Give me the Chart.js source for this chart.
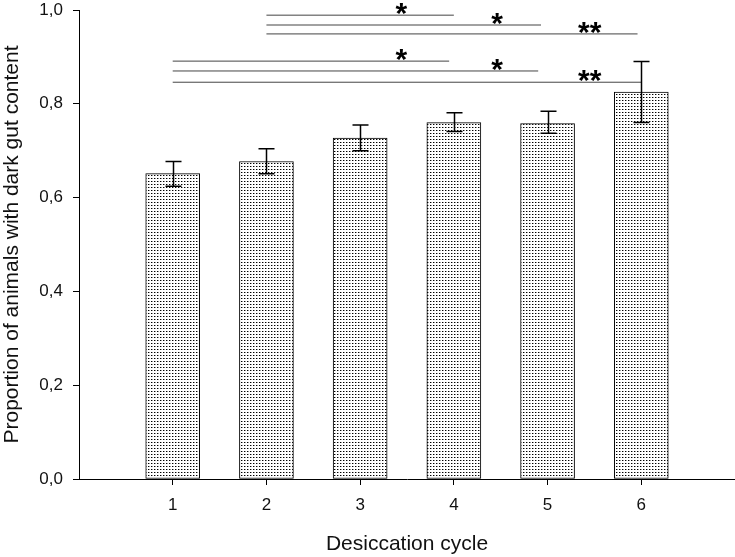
<!DOCTYPE html>
<html>
<head>
<meta charset="utf-8">
<script src="https://cdn.jsdelivr.net/npm/chart.js@4.4.1/dist/chart.umd.min.js"></script>
<style>
  body { margin: 0; background: #fff; }
  #chart { display: block; }
</style>
</head>
<body>
<canvas id="chart" width="735" height="557"></canvas>
<script>
// desiccation cycles and mean proportions
const cycles = [1, 2, 3, 4, 5, 6];
const proportion = [0.651, 0.677, 0.727, 0.760, 0.758, 0.825];
const errLow = [0.624, 0.651, 0.700, 0.741, 0.737, 0.760];
const errHigh = [0.677, 0.704, 0.755, 0.781, 0.784, 0.890];
const yTicks = [0, 0.2, 0.4, 0.6, 0.8, 1.0];

// significance brackets
const sigStart = [2, 2, 2, 1, 1, 1];
const sigEnd = [4, 4.93, 5.96, 3.95, 4.9, 6];
const sigLevel = [0.989, 0.968, 0.949, 0.891, 0.870, 0.846];
const sigStarX = [3.44, 4.46, 5.45, 3.44, 4.46, 5.45];
const sigLabel = ['*', '*', '**', '*', '*', '**'];

const FONT = "'Liberation Sans', Arial, sans-serif";

function dotPattern() {
    const c = document.createElement('canvas');
    c.width = 3;
    c.height = 3;
    const g = c.getContext('2d');
    g.fillStyle = '#fff';
    g.fillRect(0, 0, 3, 3);
    g.fillStyle = '#000';
    g.fillRect(1, 1, 1, 1);
    g.fillStyle = '#999';
    g.fillRect(2, 1, 1, 1);
    return document.getElementById('chart').getContext('2d').createPattern(c, 'repeat');
}

const errorBars = {
    id: 'errorBars',
    afterDatasetsDraw(chart) {
        const { ctx, scales: { x, y } } = chart;
        ctx.save();
        ctx.strokeStyle = '#000';
        ctx.lineWidth = 1.5;
        cycles.forEach((c, i) => {
            const px = Math.round(x.getPixelForValue(c)) + 0.5;
            const lo = y.getPixelForValue(errLow[i]);
            const hi = y.getPixelForValue(errHigh[i]);
            ctx.beginPath();
            ctx.moveTo(px, lo);
            ctx.lineTo(px, hi);
            ctx.moveTo(px - 8, hi);
            ctx.lineTo(px + 8, hi);
            ctx.moveTo(px - 8, lo);
            ctx.lineTo(px + 8, lo);
            ctx.stroke();
        });
        ctx.restore();
    }
};

const stars = {
    id: 'stars',
    afterDraw(chart) {
        const { ctx, scales: { x, y } } = chart;
        ctx.save();
        ctx.fillStyle = '#000';
        ctx.font = `bold 30px ${FONT}`;
        ctx.textAlign = 'center';
        ctx.textBaseline = 'alphabetic';
        sigLabel.forEach((t, i) => {
            ctx.fillText(t, x.getPixelForValue(sigStarX[i]), y.getPixelForValue(sigLevel[i]) + 8);
        });
        ctx.restore();
    }
};

const sigDatasets = sigStart.map((s, i) => ({
    type: 'line',
    data: [{ x: s, y: sigLevel[i] }, { x: sigEnd[i], y: sigLevel[i] }],
    borderColor: '#444',
    borderWidth: 1,
    pointRadius: 0,
    fill: false,
    order: 2
}));

new Chart(document.getElementById('chart'), {
    type: 'bar',
    data: {
        datasets: [{
            type: 'bar',
            data: cycles.map((c, i) => ({ x: c, y: proportion[i] })),
            backgroundColor: dotPattern(),
            borderColor: '#000',
            borderWidth: 1,
            borderSkipped: false,
            barThickness: 54,
            order: 1
        }, ...sigDatasets]
    },
    options: {
        responsive: false,
        animation: false,
        layout: { padding: 0 },
        plugins: {
            legend: { display: false },
            tooltip: { enabled: false }
        },
        scales: {
            x: {
                type: 'linear',
                min: 0,
                max: 7,
                offset: false,
                afterBuildTicks: scale => { scale.ticks = cycles.map(v => ({ value: v })); },
                afterFit: scale => { scale.height = 78; },
                grid: { offset: false, drawOnChartArea: false, tickLength: 6, color: '#000' },
                border: { color: '#000', width: 1 },
                ticks: {
                    padding: 10,
                    color: '#111',
                    font: { family: FONT, size: 17 },
                    callback: v => String(v)
                },
                title: {
                    display: true,
                    text: 'Desiccation cycle',
                    color: '#111',
                    font: { family: FONT, size: 21 },
                    padding: { top: 0, bottom: 0 }
                }
            },
            y: {
                min: 0,
                max: 1,
                afterBuildTicks: scale => { scale.ticks = yTicks.map(v => ({ value: v })); },
                afterFit: scale => {
                    scale.width = 79;
                    scale.paddingTop = 10;
                    scale.paddingBottom = 0;
                },
                grid: { drawOnChartArea: false, tickLength: 6, color: '#000' },
                border: { color: '#000', width: 1 },
                ticks: {
                    padding: 10,
                    color: '#111',
                    font: { family: FONT, size: 17 },
                    callback: v => v.toFixed(1).replace('.', ',')
                },
                title: {
                    display: true,
                    text: 'Proportion of animals with dark gut content',
                    color: '#111',
                    font: { family: FONT, size: 21 },
                    padding: { top: 0, bottom: 0 }
                }
            }
        }
    },
    plugins: [errorBars, stars]
});
</script>
</body>
</html>
